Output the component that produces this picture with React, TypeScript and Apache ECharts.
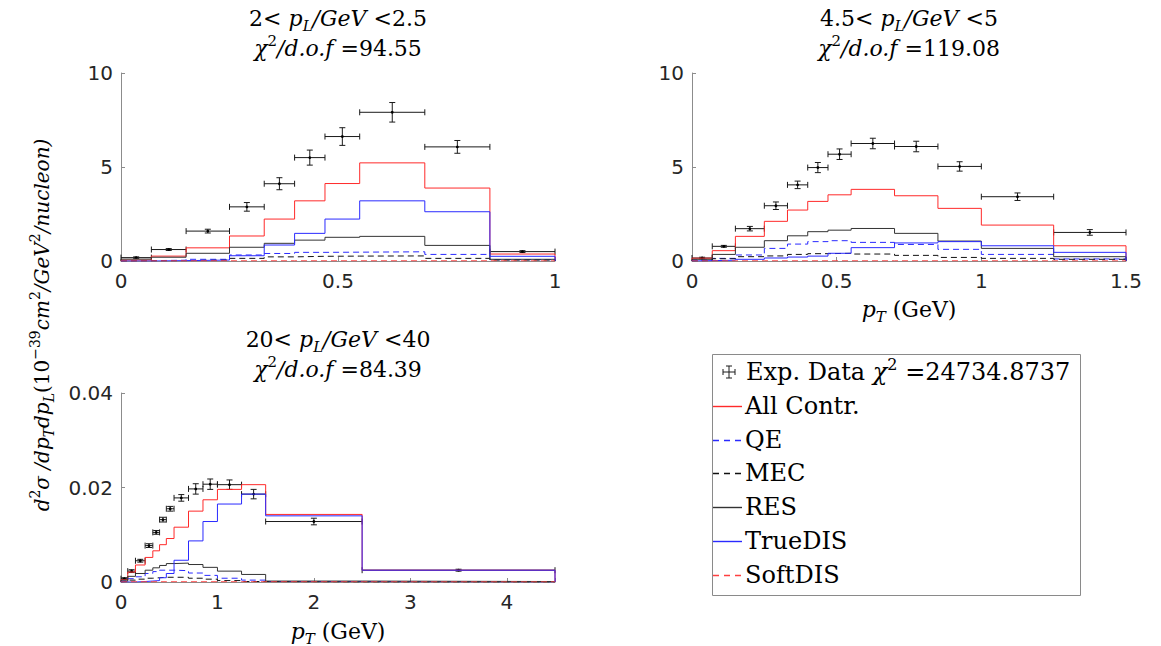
import React, { useEffect, useRef } from 'react';
import * as echarts from 'echarts';

// ---------- bin edges (GeV) ----------
const edgesA = [0, 0.07, 0.15, 0.25, 0.33, 0.4, 0.47, 0.55, 0.7, 0.85, 1.0];
const edgesB = [0, 0.07, 0.15, 0.25, 0.33, 0.4, 0.47, 0.55, 0.7, 0.85, 1.0, 1.25, 1.5];
const edgesC = [0, 0.07, 0.15, 0.25, 0.33, 0.4, 0.47, 0.55, 0.7, 0.85, 1.0, 1.25, 1.5, 2.5, 4.5];

// ---------- panel A : 2 < pL < 2.5 ----------
const dataA = [0.18, 0.61, 1.59, 2.88, 4.11, 5.5, 6.62, 7.91, 6.07, 0.5];
const errA = [0.04, 0.05, 0.1, 0.23, 0.32, 0.4, 0.47, 0.52, 0.34, 0.05];
const allA = [0.05, 0.26, 0.7, 1.33, 2.23, 3.2, 4.12, 5.22, 3.88, 0.37];
const qeA = [0.02, 0.04, 0.09, 0.32, 0.4, 0.46, 0.47, 0.49, 0.35, 0.07];
const mecA = [0.01, 0.02, 0.05, 0.14, 0.22, 0.25, 0.26, 0.27, 0.14, 0.05];
const resA = [0.1, 0.2, 0.41, 0.73, 0.94, 1.11, 1.26, 1.31, 0.83, 0.09];
const trueA = [0.0, 0.02, 0.05, 0.28, 0.85, 1.47, 2.23, 3.2, 2.62, 0.25];
const softA = [0.005, 0.008, 0.01, 0.01, 0.01, 0.01, 0.01, 0.01, 0.01, 0.005];

// ---------- panel B : 4.5 < pL < 5 ----------
const dataB = [0.16, 0.78, 1.72, 2.94, 4.05, 4.97, 5.68, 6.25, 6.09, 5.03, 3.42, 1.52];
const errB = [0.04, 0.05, 0.12, 0.2, 0.2, 0.27, 0.28, 0.28, 0.28, 0.25, 0.2, 0.15];
const allB = [0.15, 0.55, 1.31, 2.11, 2.71, 3.17, 3.52, 3.81, 3.47, 2.8, 1.91, 0.81];
const qeB = [0.05, 0.14, 0.32, 0.67, 0.9, 1.03, 1.08, 0.99, 0.88, 0.62, 0.35, 0.11];
const mecB = [0.02, 0.12, 0.23, 0.27, 0.35, 0.39, 0.41, 0.37, 0.3, 0.19, 0.14, 0.09];
const resB = [0.09, 0.35, 0.73, 1.08, 1.34, 1.56, 1.64, 1.73, 1.47, 1.06, 0.67, 0.23];
const trueB = [0.02, 0.04, 0.09, 0.16, 0.21, 0.26, 0.41, 0.71, 0.96, 1.03, 0.81, 0.46];
const softB = [0.005, 0.008, 0.01, 0.01, 0.01, 0.01, 0.01, 0.01, 0.01, 0.01, 0.008, 0.005];

// ---------- panel C : 20 < pL < 40 ----------
const dataC = [0.0007, 0.0023, 0.0045, 0.0077, 0.0105, 0.0132, 0.0155, 0.0178, 0.0197, 0.0207, 0.0206, 0.0186, 0.0128, 0.0025];
const errC = [0.0002, 0.0003, 0.0003, 0.0004, 0.0004, 0.0005, 0.0005, 0.0007, 0.0011, 0.0011, 0.001, 0.001, 0.0007, 0.0002];
const allC = [0.0005, 0.0021, 0.0036, 0.0052, 0.0066, 0.0079, 0.0092, 0.0116, 0.015, 0.0174, 0.0196, 0.0206, 0.0143, 0.0025];
const qeC = [0.0002, 0.0007, 0.0011, 0.0018, 0.0022, 0.0025, 0.0025, 0.0024, 0.0019, 0.0014, 0.0008, 0.0004, 0.0001, 0.0];
const mecC = [0.0001, 0.0004, 0.0006, 0.0008, 0.0009, 0.001, 0.001, 0.001, 0.0008, 0.0006, 0.0003, 0.0001, 0.0, 0.0];
const resC = [0.0004, 0.0012, 0.0018, 0.0025, 0.003, 0.0035, 0.0039, 0.004, 0.0037, 0.0031, 0.0023, 0.0016, 0.0002, 0.0001];
const trueC = [0.0, 0.0, 0.0001, 0.0002, 0.0003, 0.0009, 0.0018, 0.0046, 0.0087, 0.0128, 0.0165, 0.0186, 0.014, 0.0025];
const softC = [0.00003, 0.00005, 0.00005, 0.00005, 0.00005, 0.00005, 0.00005, 0.00005, 0.00005, 0.00005, 0.00005, 0.00005, 0.00003, 0.00002];

// ---------- labels ----------
const componentNames = ['All Contr.', 'QE', 'MEC', 'RES', 'TrueDIS', 'SoftDIS'];
const panelRanges = [['2', '2.5'], ['4.5', '5'], ['20', '40']];
const panelChi = ['94.55', '119.08', '84.39'];
const totalChi = '24734.8737';
const xTicksA = [0, 0.5, 1];
const xTicksB = [0, 0.5, 1, 1.5];
const xTicksC = [0, 1, 2, 3, 4];
const yTicksAB = [0, 5, 10];
const yTicksC = [0, 0.02, 0.04];

const SERIF = "'DejaVu Serif', 'Liberation Serif', serif";
const SANS = "'DejaVu Sans', 'Liberation Sans', sans-serif";

const compStyles = [
  { color: '#ff2a2a', dashed: false },
  { color: '#2a2aff', dashed: true },
  { color: '#111111', dashed: true },
  { color: '#333333', dashed: false },
  { color: '#2a2aff', dashed: false },
  { color: '#ff4040', dashed: true },
];

function stairs(edges: number[], vals: number[]) {
  const pts: number[][] = [[edges[0], 0]];
  vals.forEach((v, i) => pts.push([edges[i], v]));
  pts.push([edges[edges.length - 1], vals[vals.length - 1]]);
  pts.push([edges[edges.length - 1], 0]);
  return pts;
}

function errData(edges: number[], vals: number[], errs: number[]) {
  return vals.map((v, i) => [edges[i], edges[i + 1], v, errs[i]]);
}

const richBase = (fs: number) => {
  const sm = Math.round(fs * 0.68);
  return {
    n: { fontFamily: SERIF, fontSize: fs, fill: '#000', color: '#000', lineHeight: fs + 8 },
    i: { fontFamily: SERIF, fontSize: fs, fontStyle: 'italic', fill: '#000', color: '#000', lineHeight: fs + 8 },
    sub: { fontFamily: SERIF, fontSize: sm, fontStyle: 'italic', fill: '#000', color: '#000', verticalAlign: 'bottom', lineHeight: sm },
    sup: { fontFamily: SERIF, fontSize: sm, fill: '#000', color: '#000', verticalAlign: 'top', lineHeight: fs },
  };
};

let uid = 0;
function textEl(x: number, y: number, text: string, fs: number, rotation = 0, align = 'center') {
  uid += 1;
  return {
    type: 'text',
    id: 'txt' + uid,
    x,
    y,
    rotation,
    style: {
      text,
      rich: richBase(fs),
      fontFamily: SERIF,
      fontSize: fs,
      fill: '#000',
      align,
      verticalAlign: 'middle',
      textAlign: align,
      textVerticalAlign: 'middle',
    },
    silent: true,
  };
}

export default function App() {
  const ref = useRef<HTMLDivElement>(null);

  useEffect(() => {
    if (!ref.current) return;
    uid = 0;
    const chart = echarts.init(ref.current, undefined, { renderer: 'svg' });

    const grids = [
      { left: 121, top: 73, width: 434, height: 188 },
      { left: 692, top: 73, width: 434, height: 188 },
      { left: 121, top: 393, width: 434, height: 189 },
    ];

    const axisCommon = (ticks: number[], margin: number) => ({
      type: 'value',
      axisLine: { show: true, lineStyle: { color: '#8c8c8c', width: 1 } },
      axisTick: { show: true, inside: true, length: 4, lineStyle: { color: '#8c8c8c' } },
      splitLine: { show: false },
      axisLabel: {
        color: '#262626',
        fontFamily: SANS,
        fontSize: 20,
        margin,
        formatter: (v: number) => {
          const hit = ticks.find((t) => Math.abs(t - v) < 1e-9);
          return hit === undefined ? '' : String(hit);
        },
      },
    });

    const xAxes = [
      { ...axisCommon(xTicksA, 10), gridIndex: 0, min: 0, max: 1, interval: 0.5 },
      { ...axisCommon(xTicksB, 10), gridIndex: 1, min: 0, max: 1.5, interval: 0.5 },
      { ...axisCommon(xTicksC, 10), gridIndex: 2, min: 0, max: 4.5, interval: 1 },
    ];

    const yAxes = [
      { ...axisCommon(yTicksAB, 8), gridIndex: 0, min: 0, max: 10, interval: 5 },
      { ...axisCommon(yTicksAB, 8), gridIndex: 1, min: 0, max: 10, interval: 5 },
      { ...axisCommon(yTicksC, 8), gridIndex: 2, min: 0, max: 0.04, interval: 0.02 },
    ];

    const panels = [
      { edges: edgesA, data: dataA, err: errA, comps: [allA, qeA, mecA, resA, trueA, softA] },
      { edges: edgesB, data: dataB, err: errB, comps: [allB, qeB, mecB, resB, trueB, softB] },
      { edges: edgesC, data: dataC, err: errC, comps: [allC, qeC, mecC, resC, trueC, softC] },
    ];

    const series: any[] = [];
    panels.forEach((p, pi) => {
      series.push({
        type: 'custom',
        xAxisIndex: pi,
        yAxisIndex: pi,
        silent: true,
        encode: { x: [0, 1], y: 2 },
        data: errData(p.edges, p.data, p.err),
        renderItem: (params: any, api: any) => {
          const xlo = api.value(0);
          const xhi = api.value(1);
          const y = api.value(2);
          const e = api.value(3);
          const xc = (xlo + xhi) / 2;
          const pL = api.coord([xlo, y]);
          const pR = api.coord([xhi, y]);
          const pT = api.coord([xc, y + e]);
          const pB = api.coord([xc, y - e]);
          const pC = api.coord([xc, y]);
          const cap = 3;
          const mk = (x1: number, y1: number, x2: number, y2: number) => ({
            type: 'line',
            shape: { x1, y1, x2, y2 },
            style: { stroke: '#1a1a1a', lineWidth: 1 },
          });
          return {
            type: 'group',
            children: [
              mk(pL[0], pL[1], pR[0], pR[1]),
              mk(pL[0], pL[1] - cap, pL[0], pL[1] + cap),
              mk(pR[0], pR[1] - cap, pR[0], pR[1] + cap),
              mk(pT[0], pT[1], pB[0], pB[1]),
              mk(pT[0] - cap, pT[1], pT[0] + cap, pT[1]),
              mk(pB[0] - cap, pB[1], pB[0] + cap, pB[1]),
              { type: 'circle', shape: { cx: pC[0], cy: pC[1], r: 1.4 }, style: { fill: '#000' } },
            ],
          };
        },
      });
      p.comps.forEach((vals, ci) => {
        const cs = compStyles[ci];
        series.push({
          type: 'line',
          name: componentNames[ci],
          xAxisIndex: pi,
          yAxisIndex: pi,
          step: 'end',
          symbol: 'none',
          silent: true,
          data: stairs(p.edges, vals),
          lineStyle: { color: cs.color, width: 1, type: cs.dashed ? [6, 4] : 'solid' },
          itemStyle: { color: cs.color },
        });
      });
    });

    const titleLine1 = (lo: string, hi: string) => `{n|${lo}< }{i|p}{sub|L}{i|/GeV }{n|<${hi}}`;
    const titleLine2 = (chi: string) => `{i|χ}{sup|2}{i|/d.o.f }{n|=${chi}}`;
    const titleCenters = [
      [338, 18, 48],
      [909, 18, 48],
      [338, 339, 369],
    ];

    const graphics: any[] = [];
    titleCenters.forEach((c, i) => {
      graphics.push(textEl(c[0], c[1], titleLine1(panelRanges[i][0], panelRanges[i][1]), 22));
      graphics.push(textEl(c[0], c[2], titleLine2(panelChi[i]), 22));
    });
    // x axis names
    graphics.push(textEl(909, 309, '{i|p}{sub|T}{n| (GeV)}', 22));
    graphics.push(textEl(338, 631, '{i|p}{sub|T}{n| (GeV)}', 22));
    // y axis name
    graphics.push(
      textEl(
        42,
        325,
        '{i|d}{sup|2}{i|σ /dp}{sub|T}{i|dp}{sub|L}{n|(10}{sup|−39}{i|cm}{sup|2}{i|/GeV}{sup|2}{i|/nucleon)}',
        20,
        Math.PI / 2
      )
    );

    // legend box
    graphics.push({
      type: 'rect',
      id: 'legendBox',
      shape: { x: 712.5, y: 354.5, width: 368, height: 241 },
      style: { fill: '#fff', stroke: '#8a8a8a', lineWidth: 1 },
      silent: true,
    });
    const rowY = [372, 406, 440, 473, 507, 541, 575];
    // Exp data symbol
    const sx = 729;
    const sy = rowY[0];
    [
      [sx - 6, sy, sx + 6, sy],
      [sx - 6, sy - 3, sx - 6, sy + 3],
      [sx + 6, sy - 3, sx + 6, sy + 3],
      [sx, sy - 6, sx, sy + 6],
      [sx - 3, sy - 6, sx + 3, sy - 6],
      [sx - 3, sy + 6, sx + 3, sy + 6],
    ].forEach((s, k) =>
      graphics.push({
        type: 'line',
        id: 'expSym' + k,
        shape: { x1: s[0], y1: s[1], x2: s[2], y2: s[3] },
        style: { stroke: '#1a1a1a', lineWidth: 1 },
        silent: true,
      })
    );
    graphics.push(textEl(746, rowY[0], `{n|Exp. Data }{i|χ}{sup|2}{n| =${totalChi}}`, 24, 0, 'left'));
    componentNames.forEach((nm, i) => {
      const y = rowY[i + 1];
      const cs = compStyles[i];
      const st: any = { stroke: cs.color, lineWidth: 1.4, fill: 'none' };
      if (cs.dashed) st.lineDash = [6, 5];
      graphics.push({
        type: 'line',
        id: 'legLine' + i,
        shape: { x1: 713, y1: y + 0.5, x2: 742, y2: y + 0.5 },
        style: st,
        silent: true,
      });
      graphics.push(textEl(745, y, `{n|${nm}}`, 24, 0, 'left'));
    });

    chart.setOption({
      animation: false,
      backgroundColor: '#ffffff',
      grid: grids,
      xAxis: xAxes,
      yAxis: yAxes,
      series,
      graphic: { elements: graphics },
    });

    return () => chart.dispose();
  }, []);

  return (
    <div
      ref={ref}
      style={{ position: 'absolute', left: 0, top: 0, width: 1161, height: 646, background: '#fff' }}
    />
  );
}
